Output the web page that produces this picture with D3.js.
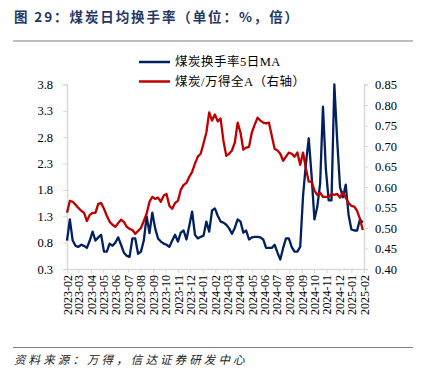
<!DOCTYPE html>
<html>
<head>
<meta charset="utf-8">
<script src="https://cdn.jsdelivr.net/npm/d3@7"></script>
<style>
  html, body { margin: 0; padding: 0; background: #fff; }
  svg { display: block; }
</style>
</head>
<body>
<svg id="chart" width="423" height="381"></svg>
<script>
// ---- data ----
const startDate = "2023-02-01";
const stepDays = 7;
const tickStart = "2023-02-01";
const tickEnd = "2025-02-01";
const seriesNames = ["煤炭换手率5日MA", "煤炭/万得全A（右轴）"];
const turnover = [
  0.84, 1.24, 0.84, 0.74, 0.72, 0.76, 0.74, 0.70, 0.84, 1.01,
  0.84, 0.90, 0.95, 0.63, 0.63, 0.78, 0.74, 0.80, 0.90, 0.76,
  0.61, 0.55, 0.53, 0.88, 0.88, 0.59, 0.63, 0.84, 1.30, 0.98,
  1.37, 1.07, 0.88, 0.82, 0.78, 0.76, 0.72, 0.84, 0.95, 0.82,
  0.99, 1.03, 0.86, 1.12, 1.39, 0.95, 0.88, 0.91, 0.93, 1.20,
  1.01, 1.41, 1.45, 1.31, 1.20, 1.18, 1.14, 1.07, 0.97, 1.08,
  1.24, 1.20, 0.99, 1.03, 0.86, 0.90, 0.91, 0.91, 0.90, 0.86,
  0.70, 0.70, 0.70, 0.76, 0.61, 0.48, 0.70, 0.88, 0.88, 0.72,
  0.63, 0.63, 0.72, 1.69, 2.30, 2.78, 2.07, 1.24, 1.48, 1.92,
  3.38, 2.21, 1.60, 1.60, 3.80, 2.74, 1.85, 1.66, 1.90, 1.33,
  1.05, 1.03, 1.03, 1.24, 1.18
];
const ratio = [
  0.537, 0.566, 0.564, 0.557, 0.549, 0.542, 0.537, 0.517, 0.532, 0.537,
  0.537, 0.559, 0.561, 0.547, 0.530, 0.515, 0.508, 0.503, 0.512, 0.520,
  0.515, 0.503, 0.498, 0.495, 0.486, 0.493, 0.500, 0.517, 0.535, 0.564,
  0.576, 0.571, 0.574, 0.564, 0.579, 0.583, 0.554, 0.547, 0.561, 0.566,
  0.593, 0.605, 0.610, 0.625, 0.637, 0.657, 0.674, 0.681, 0.706, 0.733,
  0.782, 0.762, 0.777, 0.760, 0.767, 0.713, 0.676, 0.681, 0.689, 0.708,
  0.757, 0.733, 0.691, 0.696, 0.698, 0.733, 0.752, 0.769, 0.762, 0.757,
  0.755, 0.757, 0.725, 0.693, 0.689, 0.681, 0.664, 0.674, 0.684, 0.681,
  0.674, 0.684, 0.654, 0.684, 0.645, 0.613, 0.613, 0.591, 0.581, 0.586,
  0.576, 0.576, 0.576, 0.583, 0.581, 0.583, 0.574, 0.588, 0.574, 0.561,
  0.554, 0.552, 0.542, 0.522, 0.495
];
const leftTicks = [0.3, 0.8, 1.3, 1.8, 2.3, 2.8, 3.3, 3.8];
const rightTicks = [0.40, 0.45, 0.50, 0.55, 0.60, 0.65, 0.70, 0.75, 0.80, 0.85];
const titleText = "图 29：煤炭日均换手率（单位：%，倍）";
const sourceText = "资料来源：万得，信达证券研发中心";
const colors = ["#002060", "#C00000"];

// ---- drawing ----
const svg = d3.select("#chart");
const parse = d3.timeParse("%Y-%m-%d");
const t0 = parse(startDate);
const dates = turnover.map((_, i) => d3.timeDay.offset(t0, i * stepDays));

const x = d3.scaleTime().domain([parse(tickStart), parse(tickEnd)]).range([67, 364]);
const yL = d3.scaleLinear().domain([0.3, 3.8]).range([269, 84.5]);
const yR = d3.scaleLinear().domain([0.40, 0.85]).range([269, 84.5]);

// title
svg.append("text")
  .attr("x", 14).attr("y", 22)
  .attr("font-family", "'Noto Sans CJK SC', sans-serif")
  .attr("font-weight", "bold")
  .attr("font-size", 13.5)
  .attr("letter-spacing", 1.9)
  .attr("fill", "#1F3864")
  .text(titleText);
svg.append("line").attr("x1", 13).attr("x2", 413).attr("y1", 41).attr("y2", 41)
  .attr("stroke", "#808080").attr("stroke-width", 1.2);

// footer
svg.append("line").attr("x1", 13).attr("x2", 413).attr("y1", 347.5).attr("y2", 347.5)
  .attr("stroke", "#808080").attr("stroke-width", 1.2);
svg.append("text")
  .attr("x", 14).attr("y", 363.5)
  .attr("font-family", "'Noto Sans CJK SC', sans-serif")
  .attr("font-style", "italic")
  .attr("font-size", 11.5)
  .attr("letter-spacing", 3.1)
  .attr("fill", "#222")
  .text(sourceText);

const axisColor = "#D9D9D9";
const labelFont = "'Liberation Serif', 'Times New Roman', serif";

// left axis
const gL = svg.append("g").attr("transform", "translate(67,0)")
  .call(d3.axisLeft(yL).tickValues(leftTicks).tickFormat(d3.format(".1f")).tickSizeOuter(0).tickSize(4).tickPadding(10));
// right axis
const gR = svg.append("g").attr("transform", "translate(364,0)")
  .call(d3.axisRight(yR).tickValues(rightTicks).tickFormat(d3.format(".2f")).tickSizeOuter(0).tickSize(4).tickPadding(7));
// bottom axis
const monthTicks = d3.timeMonth.range(parse(tickStart), d3.timeDay.offset(parse(tickEnd), 1));
const gB = svg.append("g").attr("transform", "translate(0,269)")
  .call(d3.axisBottom(x).tickValues(monthTicks).tickFormat(d3.timeFormat("%Y-%m")).tickSizeOuter(0).tickSize(4));
gB.selectAll("text")
  .attr("transform", "rotate(-90)")
  .attr("text-anchor", "end")
  .attr("x", -6).attr("y", 0).attr("dy", "0.35em");

[gL, gR, gB].forEach(g => {
  g.select(".domain").attr("stroke", axisColor).attr("stroke-width", 1.5);
  g.selectAll(".tick line").attr("stroke", axisColor).attr("stroke-width", 1);
  g.selectAll("text").attr("font-family", labelFont).attr("font-size", 12.5).attr("fill", "#000");
});
gB.selectAll("text").attr("font-size", 12);

// lines
const lineL = d3.line().x((d, i) => x(dates[i])).y(d => yL(d));
const lineR = d3.line().x((d, i) => x(dates[i])).y(d => yR(d));
svg.append("path").datum(turnover).attr("d", lineL)
  .attr("fill", "none").attr("stroke", colors[0]).attr("stroke-width", 2.3).attr("stroke-linejoin", "round");
svg.append("path").datum(ratio).attr("d", lineR)
  .attr("fill", "none").attr("stroke", colors[1]).attr("stroke-width", 2.3).attr("stroke-linejoin", "round");

// legend
const legend = svg.append("g");
seriesNames.forEach((name, i) => {
  const yy = 62 + i * 19.5;
  legend.append("line").attr("x1", 139).attr("x2", 170).attr("y1", yy).attr("y2", yy)
    .attr("stroke", colors[i]).attr("stroke-width", 2.5);
  legend.append("text").attr("x", 175).attr("y", yy).attr("dy", "0.35em")
    .attr("font-family", "'Liberation Serif', 'Noto Sans CJK SC', serif")
    .attr("font-size", 12.5)
    .attr("letter-spacing", 0.5)
    .attr("fill", "#000")
    .text(name);
});
</script>
</body>
</html>
